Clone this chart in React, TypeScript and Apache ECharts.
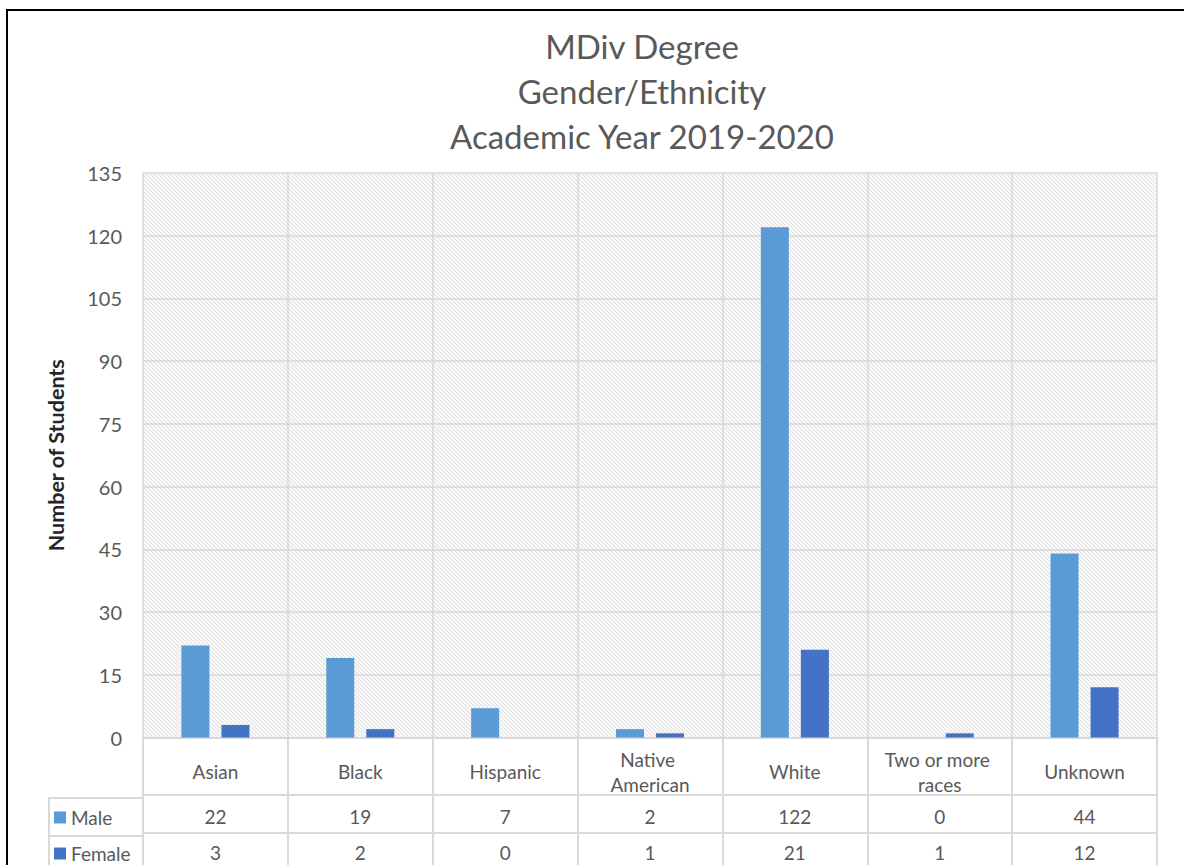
import React, { useEffect, useRef } from "react";
import * as echarts from "echarts";

const titleLines = ["MDiv Degree", "Gender/Ethnicity", "Academic Year 2019-2020"];
const categories = ["Asian", "Black", "Hispanic", "Native American", "White", "Two or more races", "Unknown"];
const maleValues = [22, 19, 7, 2, 122, 0, 44];
const femaleValues = [3, 2, 0, 1, 21, 1, 12];
const seriesNames = ["Male", "Female"];
const seriesColors = ["#5B9BD5", "#4472C4"];
const yTicks = { min: 0, max: 135, interval: 15 };
const yAxisTitle = "Number of Students";

const FONT = "Lato, 'Open Sans', sans-serif";
const GRAY = "#595959";
const LINE = "#d9d9d9";

export default function App() {
  const ref = useRef<HTMLDivElement>(null);
  useEffect(() => {
    if (!ref.current) return;
    const chart = echarts.init(ref.current, undefined, { renderer: "svg" });

    const s = 4;
    const c = document.createElement("canvas");
    c.width = s;
    c.height = s;
    const ctx = c.getContext("2d")!;
    ctx.fillStyle = "#fbfbfb";
    ctx.fillRect(0, 0, s, s);
    for (let i = 0; i < s; i++) {
      ctx.fillStyle = "#e2e2e2";
      ctx.fillRect(i, i, 1, 1);
      ctx.fillStyle = "#f0f0f0";
      ctx.fillRect((i + 1) % s, i, 1, 1);
    }

    const catLabel = {
      color: GRAY,
      fontFamily: FONT,
      fontSize: 19,
      lineHeight: 25,
      verticalAlign: "middle",
      interval: 0,
    };

    const legendBase = {
      orient: "horizontal",
      left: 54,
      padding: 0,
      itemWidth: 12,
      itemHeight: 12,
      icon: "rect",
      selectedMode: false,
      textStyle: { color: GRAY, fontSize: 19, fontFamily: FONT },
    };

    chart.setOption({
      animation: false,
      backgroundColor: "#fff",
      textStyle: { fontFamily: FONT },
      grid: {
        left: 143,
        right: 27,
        top: 173,
        bottom: 124,
        show: true,
        borderWidth: 0,
        backgroundColor: { image: c, repeat: "repeat" },
      },
      legend: [
        { ...legendBase, top: 808, data: [seriesNames[0]] },
        { ...legendBase, top: 844, data: [seriesNames[1]] },
      ],
      xAxis: [
        {
          type: "category",
          data: categories,
          axisLine: { show: true, lineStyle: { color: LINE, width: 2 } },
          axisTick: { show: true, length: 57, lineStyle: { color: LINE, width: 2 } },
          splitLine: { show: true, lineStyle: { color: LINE, width: 1.5 } },
          axisLabel: { ...catLabel, margin: 34, width: 120, overflow: "break" },
        },
        {
          type: "category",
          data: categories,
          position: "bottom",
          offset: 57,
          axisLine: { show: true, lineStyle: { color: LINE, width: 2 } },
          axisTick: { show: true, length: 38, lineStyle: { color: LINE, width: 2 } },
          splitLine: { show: false },
          axisLabel: { ...catLabel, margin: 22, formatter: (_v: string, i: number) => String(maleValues[i]) },
        },
        {
          type: "category",
          data: categories,
          position: "bottom",
          offset: 95,
          axisLine: { show: true, lineStyle: { color: LINE, width: 2 } },
          axisTick: { show: true, length: 40, lineStyle: { color: LINE, width: 2 } },
          splitLine: { show: false },
          axisLabel: { ...catLabel, margin: 20, formatter: (_v: string, i: number) => String(femaleValues[i]) },
        },
      ],
      yAxis: {
        type: "value",
        min: yTicks.min,
        max: yTicks.max,
        interval: yTicks.interval,
        name: yAxisTitle,
        nameLocation: "middle",
        nameGap: 76,
        nameTextStyle: { color: "#262626", fontWeight: "bold", fontSize: 21.5, fontFamily: FONT },
        axisLine: { show: false },
        axisTick: { show: false },
        axisLabel: { color: GRAY, fontSize: 20, fontFamily: FONT, margin: 21 },
        splitLine: { show: true, lineStyle: { color: LINE, width: 1.5 } },
      },
      series: [
        {
          name: seriesNames[0],
          type: "bar",
          data: maleValues,
          barWidth: 28,
          barGap: "43%",
          itemStyle: { color: seriesColors[0] },
        },
        {
          name: seriesNames[1],
          type: "bar",
          data: femaleValues,
          barWidth: 28,
          barGap: "43%",
          itemStyle: { color: seriesColors[1] },
        },
      ],
      graphic: [
        {
          type: "text",
          x: 642,
          y: 23,
          style: {
            text: titleLines.join("\n"),
            textAlign: "center",
            fill: GRAY,
            fontSize: 33,
            lineHeight: 45,
            fontFamily: FONT,
          },
        },
        { type: "line", shape: { x1: 49, y1: 798, x2: 143, y2: 798 }, style: { stroke: LINE, lineWidth: 2 } },
        { type: "line", shape: { x1: 49, y1: 836, x2: 143, y2: 836 }, style: { stroke: LINE, lineWidth: 2 } },
        { type: "line", shape: { x1: 49, y1: 797, x2: 49, y2: 870 }, style: { stroke: LINE, lineWidth: 2 } },
        {
          type: "rect",
          shape: { x: 7, y: 10, width: 1400, height: 1000 },
          style: { fill: "none", stroke: "#000", lineWidth: 2 },
          z: 100,
        },
      ],
    });
    return () => chart.dispose();
  }, []);
  return <div ref={ref} style={{ position: "fixed", left: 0, top: 0, width: 1184, height: 865 }} />;
}
